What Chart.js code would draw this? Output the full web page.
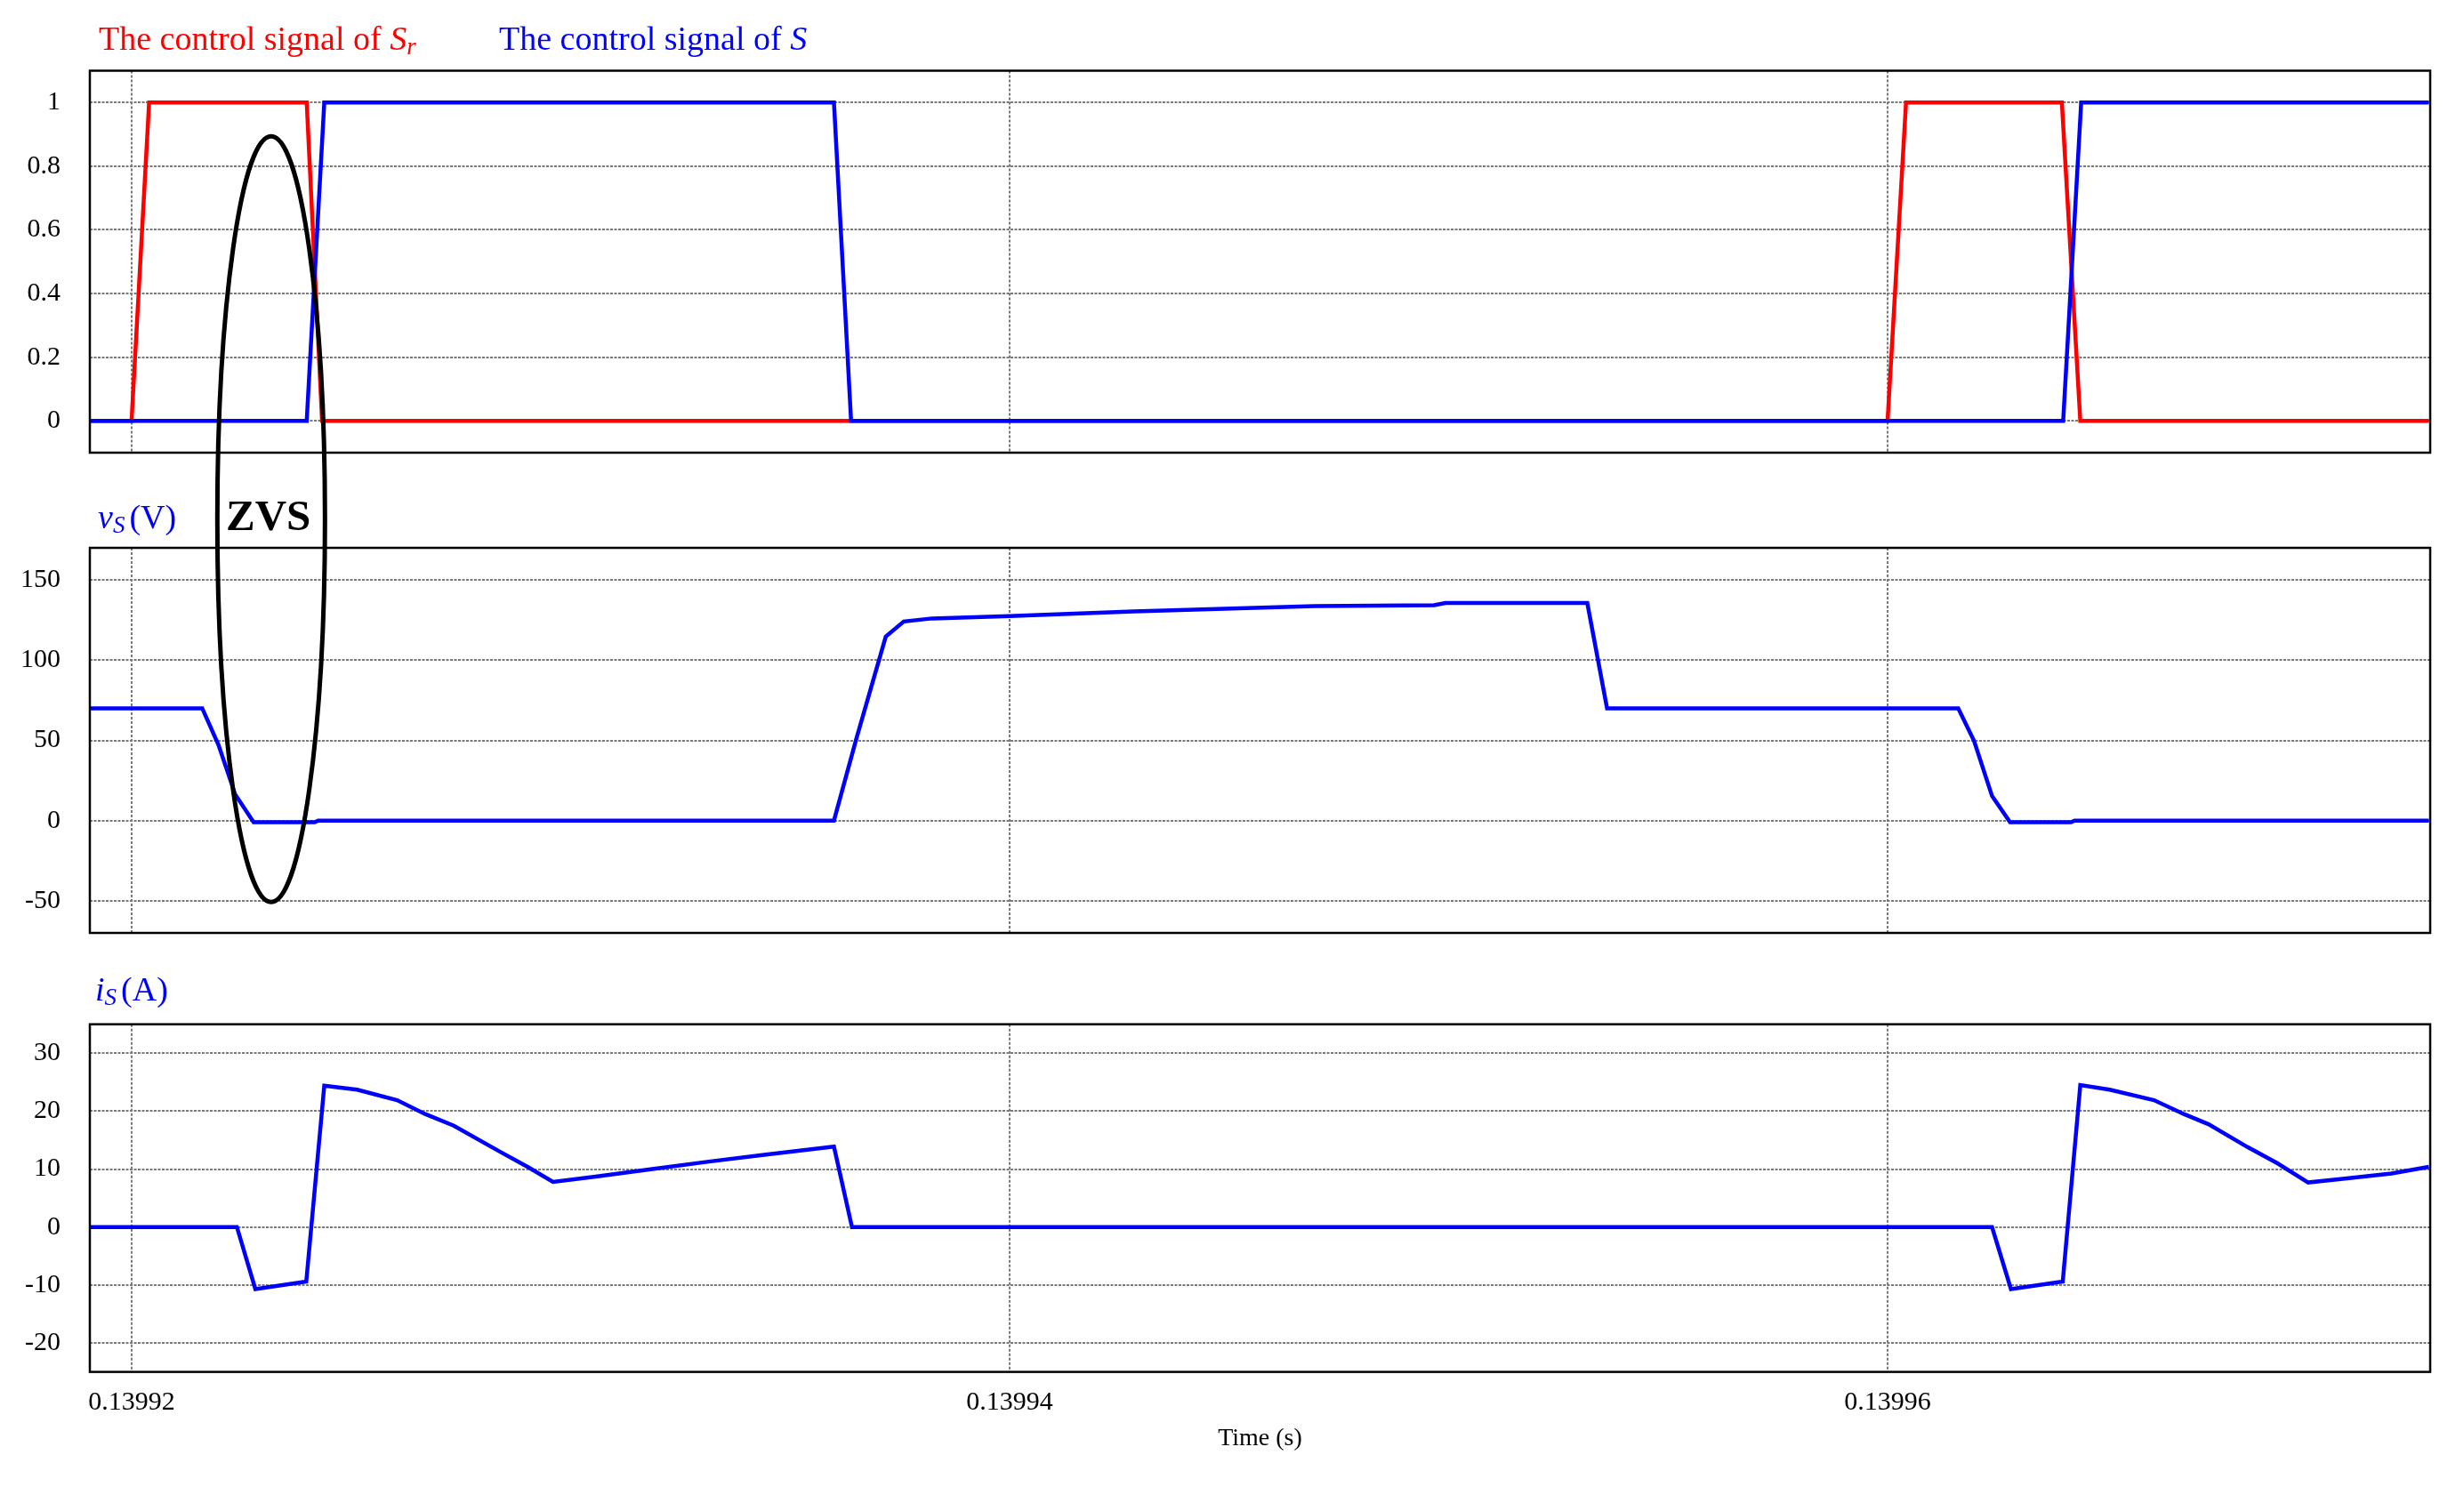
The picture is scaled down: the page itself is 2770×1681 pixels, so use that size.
<!DOCTYPE html>
<html><head><meta charset="utf-8">
<script src="https://cdn.jsdelivr.net/npm/chart.js@4.4.1/dist/chart.umd.min.js"></script>
<style>
html,body{margin:0;padding:0;background:#fff;}
#wrap{position:relative;width:2770px;height:1681px;overflow:hidden;background:#fff;font-family:"Liberation Serif","Times New Roman",serif;}
canvas{position:absolute;left:0;}
.lbl{position:absolute;white-space:nowrap;font-size:38px;line-height:38px;}
.lbl sub{font-size:27px;line-height:0;vertical-align:-5px;}
.zvs{position:absolute;white-space:nowrap;font-size:49px;line-height:49px;font-weight:bold;color:#000;}
</style></head><body>
<div id="wrap">
<canvas id="c1" width="2770" height="560" style="top:0px"></canvas>
<canvas id="c2" width="2770" height="540" style="top:560px"></canvas>
<canvas id="c3" width="2770" height="581" style="top:1100px"></canvas>
<canvas id="ov" width="2770" height="1681" style="top:0px;pointer-events:none"></canvas>
<div class="lbl" style="left:111px;top:24px;color:#ff0000">The control signal of <i>S<sub>r</sub></i></div>
<div class="lbl" style="left:561px;top:24px;color:#0000ff">The control signal of <i>S</i></div>
<div class="lbl" style="left:110px;top:562px;color:#0000ff"><i>v</i><sub><i>S</i></sub><span style="margin-left:5px">(V)</span></div>
<div class="lbl" style="left:107px;top:1093px;color:#0000ff"><i>i</i><sub><i>S</i></sub><span style="margin-left:5px">(A)</span></div>
<div class="zvs" style="left:254px;top:555px">ZVS</div>
</div>
<script>
// ---- data (time in microseconds) ----
const X_MIN = 139919.05, X_MAX = 139972.36;
const xTickValues = [139920, 139940, 139960];
const yTicksSignal = [0, 0.2, 0.4, 0.6, 0.8, 1];
const yTicksV = [-50, 0, 50, 100, 150];
const yTicksI = [-20, -10, 0, 10, 20, 30];

const timeSr = [139919.05, 139920.0, 139920.40, 139923.99, 139924.34, 139960.0, 139960.42, 139963.97, 139964.39, 139972.33];
const valSr  = [0, 0, 1, 1, 0, 0, 1, 1, 0, 0];

const timeS = [139919.05, 139923.99, 139924.39, 139936.0, 139936.39, 139964.0, 139964.41, 139972.33];
const valS  = [0, 0, 1, 1, 0, 0, 1, 1];

const timeV = [139919.05, 139921.61, 139921.98, 139922.36, 139922.78, 139924.17, 139924.25, 139936.0, 139936.51, 139937.18, 139937.59, 139938.23, 139939.99, 139942.82, 139946.95, 139949.67, 139949.93, 139953.16, 139953.61, 139961.61, 139961.97, 139962.38, 139962.79, 139964.18, 139964.26, 139972.33];
const valV  = [70, 70, 47.2, 16.4, -1, -1, 0, 0, 51, 114.7, 124.1, 126, 127.4, 130.4, 133.7, 134.3, 135.6, 135.6, 70, 70, 49.7, 15.3, -1, -1, 0, 0];

const timeI = [139919.05, 139922.40, 139922.82, 139923.98, 139924.39, 139925.14, 139926.05, 139926.69, 139927.34, 139928.37, 139929.02, 139929.60, 139930.57, 139931.86, 139933.15, 139934.45, 139936.0, 139936.41, 139962.38, 139962.81, 139963.99, 139964.39, 139965.06, 139966.07, 139966.75, 139967.31, 139968.2, 139968.88, 139969.58, 139970.46, 139971.48, 139972.33];
const valI  = [0, 0, -10.7, -9.4, 24.4, 23.7, 21.9, 19.5, 17.5, 13.1, 10.4, 7.8, 8.7, 10.0, 11.3, 12.5, 13.9, 0, 0, -10.7, -9.4, 24.5, 23.7, 21.9, 19.5, 17.75, 13.8, 11.0, 7.7, 8.4, 9.25, 10.4];

// ZVS ellipse annotation anchors (data coordinates)
const ellipseT = 139923.18, ellipseHalfT = 1.226;
const ellipseTopSignal = 0.894;   // in panel 1 units
const ellipseBottomV = -50.8;     // in panel 2 units

// ---- chart setup ----
Chart.defaults.font.family = '"Liberation Serif", "Times New Roman", serif';
Chart.defaults.color = '#000';
const gridCol = '#7a7a7a';

function pts(t, v){ return t.map((x, i) => ({x: x, y: v[i]})); }

function xScale(showLabels){
  return {
    type: 'linear', min: X_MIN, max: X_MAX,
    afterBuildTicks: ax => { ax.ticks = xTickValues.map(v => ({value: v})); },
    afterFit: ax => { ax.height = showLabels ? 138.4 : 0; },
    grid: {color: gridCol, lineWidth: 2, drawTicks: false},
    border: {display: false, dash: [3, 2]},
    ticks: {display: showLabels, maxRotation: 0, autoSkip: false, padding: 17, font: {size: 30}, color: '#000',
            callback: v => (v / 1e6).toFixed(5)},
    title: {display: showLabels, text: 'Time (s)', font: {size: 28}, color: '#000', padding: {top: 0, bottom: 47}}
  };
}
function yScale(min, max, ticks){
  return {
    type: 'linear', min: min, max: max,
    afterBuildTicks: ax => { ax.ticks = ticks.map(v => ({value: v})); },
    afterFit: ax => { ax.width = 101; },
    grid: {color: gridCol, lineWidth: 2, drawTicks: false},
    border: {display: false, dash: [3, 1.5]},
    ticks: {padding: 33, font: {size: 30}, color: '#000', callback: v => String(+(+v).toFixed(2))}
  };
}
const frame = {
  id: 'frame',
  afterDraw(chart){
    const {ctx, chartArea: a} = chart;
    ctx.save();
    ctx.strokeStyle = '#000';
    ctx.lineWidth = 2.5;
    ctx.strokeRect(a.left, a.top, a.right - a.left, a.bottom - a.top);
    ctx.restore();
  }
};
function make(id, datasets, yopts, pad, showX){
  return new Chart(document.getElementById(id), {
    type: 'line',
    data: {datasets: datasets},
    options: {
      responsive: false, animation: false, devicePixelRatio: 1, events: [],
      layout: {padding: pad},
      plugins: {legend: {display: false}, tooltip: {enabled: false}},
      elements: {point: {radius: 0}, line: {tension: 0, borderJoinStyle: 'miter', borderCapStyle: 'butt'}},
      scales: {x: xScale(showX), y: yopts}
    },
    plugins: [frame]
  });
}

const c1 = make('c1', [
  {label: 'S', data: pts(timeS, valS), borderColor: '#0000ff', borderWidth: 4.5, fill: false},
  {label: 'Sr', data: pts(timeSr, valSr), borderColor: '#ff0000', borderWidth: 4.5, fill: false}
], yScale(-0.1, 1.1, yTicksSignal), {top: 79.5, bottom: 35, left: 0, right: 38}, false);

const c2 = make('c2', [
  {label: 'vS', data: pts(timeV, valV), borderColor: '#0000ff', borderWidth: 4.5, fill: false}
], yScale(-70, 170, yTicksV), {top: 56, bottom: 39.3, left: 0, right: 38}, false);

const c3 = make('c3', [
  {label: 'iS', data: pts(timeI, valI), borderColor: '#0000ff', borderWidth: 4.5, fill: false}
], yScale(-25, 35, yTicksI), {top: 51.7, bottom: 0, left: 0, right: 38}, true);

// ---- ZVS ellipse overlay, anchored to the scales ----
const ov = document.getElementById('ov').getContext('2d');
const cx = c1.scales.x.getPixelForValue(ellipseT);
const rx = cx - c1.scales.x.getPixelForValue(ellipseT - ellipseHalfT);
const topY = 0 + c1.scales.y.getPixelForValue(ellipseTopSignal);
const botY = 560 + c2.scales.y.getPixelForValue(ellipseBottomV);
ov.beginPath();
ov.ellipse(cx, (topY + botY) / 2, rx, (botY - topY) / 2, 0, 0, 2 * Math.PI);
ov.lineWidth = 5;
ov.strokeStyle = '#000';
ov.stroke();
</script>
</body></html>
